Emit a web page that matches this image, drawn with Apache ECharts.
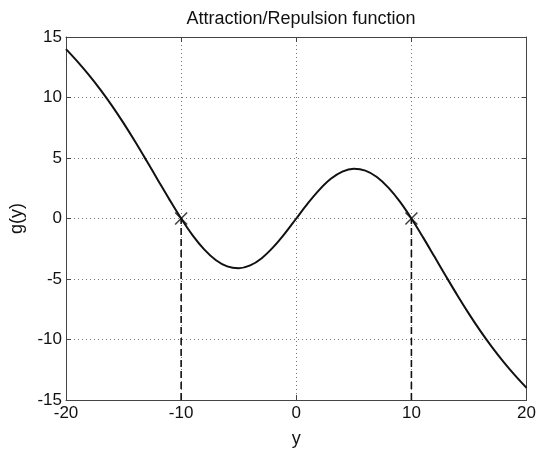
<!DOCTYPE html>
<html><head><meta charset="utf-8">
<script src="https://cdn.jsdelivr.net/npm/echarts@6/dist/echarts.min.js"></script>
<style>html,body{margin:0;padding:0;background:#fff}#c{width:539px;height:453px}</style>
</head><body><div id="c"></div>
<script>
var yValues = [-20,-19,-18,-17,-16,-15,-14,-13,-12,-11,-10,-9,-8,-7,-6,-5,-4,-3,-2,-1,0,1,2,3,4,5,6,7,8,9,10,11,12,13,14,15,16,17,18,19,20];
var gValues = [14.00,12.97,11.85,10.63,9.31,7.88,6.36,4.77,3.15,1.54,0,-1.39,-2.55,-3.43,-3.96,-4.11,-3.88,-3.28,-2.37,-1.25,0,1.25,2.37,3.28,3.88,4.11,3.96,3.43,2.55,1.39,0,-1.54,-3.15,-4.77,-6.36,-7.88,-9.31,-10.63,-11.85,-12.97,-14.00];
var equilibria = [[-10,0],[10,0]];
var dropLeft = [[-10,-15],[-10,0]];
var dropRight = [[10,-15],[10,0]];

var curve = yValues.map(function(v,i){return [v,gValues[i]];});
var font = 'Liberation Sans, Arial, sans-serif';
var chart = echarts.init(document.getElementById('c'));
var axisLineStyle = {color:'#444', width:1};
chart.setOption({
  animation:false,
  title:{text:'Attraction/Repulsion function', left:296, top:5, textAlign:'center',
    textStyle:{fontFamily:font, fontSize:18, fontWeight:'normal', color:'#111'}},
  grid:{left:64, right:10, top:37, bottom:49},
  xAxis:[{type:'value', min:-20, max:20, interval:10, position:'bottom',
    name:'y', nameLocation:'middle', nameGap:30, nameTextStyle:{fontFamily:font, fontSize:18, color:'#111'},
    axisLine:{show:true, onZero:false, lineStyle:axisLineStyle},
    axisTick:{show:true, inside:true, length:5, lineStyle:axisLineStyle},
    axisLabel:{fontFamily:font, fontSize:17, color:'#111', margin:5},
    splitLine:{show:true, lineStyle:{color:'#777', type:[1,3], width:1}}},
   {type:'value', min:-20, max:20, interval:10, position:'top',
    axisLine:{show:true, onZero:false, lineStyle:axisLineStyle},
    axisTick:{show:true, inside:true, length:5, lineStyle:axisLineStyle},
    axisLabel:{show:false}, splitLine:{show:false}}],
  yAxis:[{type:'value', min:-15, max:15, interval:5, position:'left',
    name:'g(y)', nameLocation:'middle', nameGap:40, nameRotate:90, nameTextStyle:{fontFamily:font, fontSize:18, color:'#111'},
    axisLine:{show:true, onZero:false, lineStyle:axisLineStyle},
    axisTick:{show:true, inside:true, length:5, lineStyle:axisLineStyle},
    axisLabel:{fontFamily:font, fontSize:17, color:'#111', margin:4},
    splitLine:{show:true, lineStyle:{color:'#777', type:[1,3], width:1}}},
   {type:'value', min:-15, max:15, interval:5, position:'right',
    axisLine:{show:true, onZero:false, lineStyle:axisLineStyle},
    axisTick:{show:true, inside:true, length:5, lineStyle:axisLineStyle},
    axisLabel:{show:false}, splitLine:{show:false}}],
  series:[
    {type:'line', data:curve, smooth:0.35, showSymbol:false, lineStyle:{color:'#111', width:2}, z:5},
    {type:'line', data:dropLeft, showSymbol:false, lineStyle:{color:'#111', width:1.6, type:[7,4]}, z:4},
    {type:'line', data:dropRight, showSymbol:false, lineStyle:{color:'#111', width:1.6, type:[7,4]}, z:4},
    {type:'scatter', data:equilibria, symbol:'path://M0,0L10,10M10,0L0,10', symbolSize:12,
      itemStyle:{color:'none', borderColor:'#111', borderWidth:1.5}, z:6}
  ]
});
</script></body></html>
